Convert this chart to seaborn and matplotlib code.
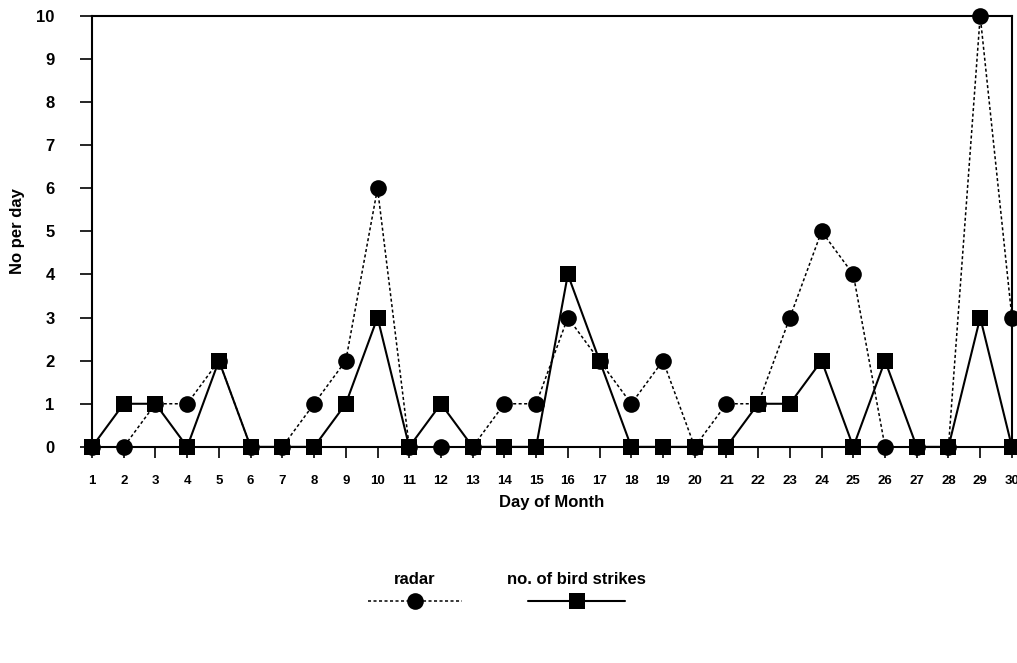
import matplotlib
matplotlib.use("Agg")
import matplotlib.pyplot as plt
from matplotlib.lines import Line2D
import seaborn as sns
import pandas as pd

days = list(range(1, 31))
radar = [0, 0, 1, 1, 2, 0, 0, 1, 2, 6, 0, 0, 0, 1, 1,
         3, 2, 1, 2, 0, 1, 1, 3, 5, 4, 0, 0, 0, 10, 3]
strikes = [0, 1, 1, 0, 2, 0, 0, 0, 1, 3, 0, 1, 0, 0, 0,
           4, 2, 0, 0, 0, 0, 1, 1, 2, 0, 2, 0, 0, 3, 0]
y_ticks = list(range(0, 11))

sns.set_theme(style="white")
plt.rcParams["font.family"] = ["Liberation Sans", "DejaVu Sans"]
plt.rcParams["font.weight"] = "bold"
plt.rcParams["text.color"] = "black"
plt.rcParams["axes.labelcolor"] = "black"
plt.rcParams["xtick.color"] = "black"
plt.rcParams["ytick.color"] = "black"

df = pd.DataFrame({"day": days, "radar": radar, "strikes": strikes})

fig = plt.figure(figsize=(10.17, 6.63), dpi=100)
ax = fig.add_axes([0.0905, 0.326, 0.9045, 0.650])

sns.lineplot(data=df, x="day", y="radar", ax=ax, color="black",
             linestyle=(0, (2, 1.6)), linewidth=1.1, marker="o",
             markersize=12, markeredgewidth=0, clip_on=False, zorder=3)
sns.lineplot(data=df, x="day", y="strikes", ax=ax, color="black",
             linestyle="-", linewidth=1.5, marker="s",
             markersize=11.5, markeredgewidth=0, clip_on=False, zorder=4)

ax.set_xlim(1, 30)
ax.set_ylim(0, 10)
ax.set_xticks(days)
ax.set_yticks(y_ticks)
ax.tick_params(axis="x", direction="out", length=8, width=1.2, pad=12,
               labelsize=9.5, bottom=True, colors="black")
ax.tick_params(axis="y", direction="out", length=9, width=1.2, pad=18,
               labelsize=12, left=True, colors="black")
for lab in ax.get_xticklabels() + ax.get_yticklabels():
    lab.set_fontweight("bold")

for side in ["left", "top", "right", "bottom"]:
    ax.spines[side].set_visible(True)
    ax.spines[side].set_color("black")
    ax.spines[side].set_linewidth(1.5)

ax.set_xlabel("Day of Month", fontsize=12, fontweight="bold", labelpad=6)
ax.set_ylabel("No per day", fontsize=12, fontweight="bold", labelpad=8)

# legend: label above a sample of each line
def legend_item(x0, x1, label, ls, lw, marker, ms):
    xm = (x0 + x1) / 2
    fig.text(xm / 1017, 1 - 580 / 663, label, ha="center", va="center",
             fontsize=12, fontweight="bold")
    y = 1 - 601 / 663
    fig.add_artist(Line2D([x0 / 1017, x1 / 1017], [y, y], color="black",
                          linestyle=ls, linewidth=lw,
                          transform=fig.transFigure))
    fig.add_artist(Line2D([xm / 1017], [y], color="black", marker=marker,
                          markersize=ms, markeredgewidth=0, linestyle="none",
                          transform=fig.transFigure))

legend_item(368, 462, "radar", (0, (2, 1.6)), 1.1, "o", 12)
legend_item(528, 625, "no. of bird strikes", "-", 1.5, "s", 11.5)

fig.savefig("out.png", dpi=100)
